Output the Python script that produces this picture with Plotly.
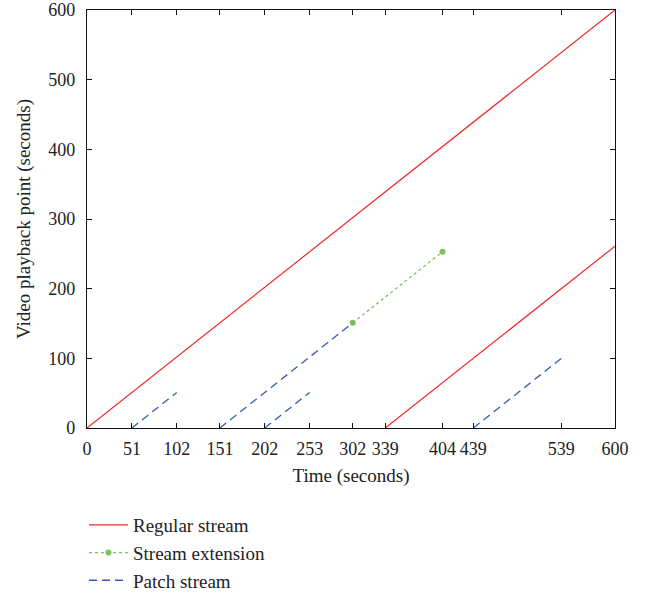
import plotly.graph_objects as go

# Data
regular_x = [[0, 600], [339, 600]]
regular_y = [[0, 600], [0, 261]]
extension_x = [302, 404]
extension_y = [151, 253]
patch_x = [[51, 102], [151, 302], [202, 253], [439, 539]]
patch_y = [[0, 51], [0, 151], [0, 51], [0, 100]]
x_ticks = [0, 51, 102, 151, 202, 253, 302, 339, 404, 439, 539, 600]
y_ticks = [0, 100, 200, 300, 400, 500, 600]


def join(segs):
    out = []
    for i, s in enumerate(segs):
        if i:
            out.append(None)
        out.extend(s)
    return out


FONT = "Liberation Serif"
TXT = "#222"
fig = go.Figure()
fig.add_trace(go.Scatter(x=join(regular_x), y=join(regular_y), mode="lines",
                         name="Regular stream",
                         line=dict(color="#f02828", width=1.2)))
fig.add_trace(go.Scatter(x=extension_x, y=extension_y, mode="lines+markers",
                         name="Stream extension",
                         line=dict(color="#7cc45a", width=1.3, dash="dot"),
                         marker=dict(symbol="circle", size=6, color="#7cc45a")))
fig.add_trace(go.Scatter(x=join(patch_x), y=join(patch_y), mode="lines",
                         name="Patch stream",
                         line=dict(color="#3a58b4", width=1.3, dash="8px,5px")))

axis_common = dict(showgrid=False, zeroline=False, showline=True, linecolor="#111",
                   linewidth=1.2, mirror="ticks", ticks="inside", ticklen=5,
                   tickcolor="#111", automargin=False, ticklabeloverflow="allow",
                   tickfont=dict(family=FONT, size=18, color=TXT))
fig.update_xaxes(range=[0, 600], tickvals=x_ticks, ticktext=[str(v) for v in x_ticks],
                 tickangle=0, ticklabelstandoff=4,
                 title=dict(text="Time (seconds)", font=dict(family=FONT, size=19, color=TXT),
                            standoff=10),
                 **axis_common)
fig.update_yaxes(range=[0, 600], tickvals=y_ticks, ticklabelstandoff=7,
                 title=dict(text="Video playback point (seconds)",
                            font=dict(family=FONT, size=19, color=TXT), standoff=12),
                 **axis_common)
fig.update_layout(
    width=646, height=594,
    margin=dict(l=87, r=31, t=10, b=166, autoexpand=False),
    plot_bgcolor="white", paper_bgcolor="white",
    font=dict(family=FONT, size=19, color=TXT),
    showlegend=True,
    legend=dict(x=-0.0057, y=-0.1866, xanchor="left", yanchor="top",
                font=dict(family=FONT, size=19, color=TXT),
                bgcolor="rgba(0,0,0,0)", tracegroupgap=0, itemwidth=39),
)
fig.write_html("out.html")
